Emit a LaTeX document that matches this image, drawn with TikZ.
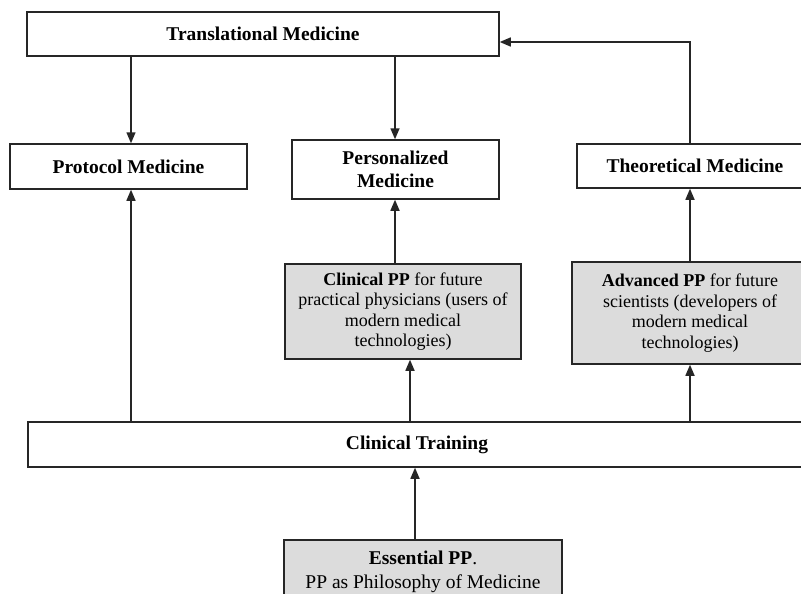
\documentclass[tikz,border=0pt]{standalone}
\usepackage{fontspec}
\setmainfont{Liberation Serif}
\usetikzlibrary{arrows.meta}
\definecolor{edge}{HTML}{262626}
\definecolor{ppfill}{HTML}{DCDCDC}
\tikzset{
  box/.style={draw=edge, line width=1.5pt, inner sep=0pt, align=center,
    text=black, font=\bfseries\fontsize{19.5}{23}\selectfont},
  ppbox/.style={box, fill=ppfill, font=\fontsize{18}{20.5}\selectfont},
  plainbox/.style={box, fill=ppfill, font=\fontsize{19.5}{24}\selectfont},
  arr/.style={draw=edge, line width=1.5pt, -{Triangle[length=11pt,width=9pt]}},
}
\begin{document}
\begin{tikzpicture}[x=1pt,y=-1pt]
\useasboundingbox (0,0) rectangle (801,594);
\clip (0,0) rectangle (801,594);
\fill[white] (0,0) rectangle (801,594);

% top level
\node[box, minimum width=472pt, minimum height=44pt] (trans) at (263,34) {Translational Medicine};

% second level
\node[box, minimum width=237pt, minimum height=45pt] (proto) at (128.5,166.5) {Protocol Medicine};
\node[box, minimum width=207pt, minimum height=59pt] (pers) at (395.5,169.5) {Personalized\\Medicine};
\node[box, minimum width=236pt, minimum height=44pt] (theo) at (695,166) {Theoretical Medicine};

% propaedeutics boxes
\node[ppbox, minimum width=236pt, minimum height=95pt] (clinpp) at (403,311.5)
  {\textbf{Clinical PP} for future\\practical physicians (users of\\modern medical\\technologies)};
\node[ppbox, minimum width=236pt, minimum height=102pt] (advpp) at (690,313)
  {\textbf{Advanced PP} for future\\scientists (developers of\\modern medical\\technologies)};

% training
\node[box, minimum width=778pt, minimum height=45pt] (ctrain) at (417,444.5) {Clinical Training};

% base
\node[plainbox, minimum width=278pt, minimum height=64pt] (ess) at (423,572)
  {\textbf{Essential PP}.\\PP as Philosophy of Medicine};

% x positions of the vertical connectors
\coordinate (xa) at (131,0);
\coordinate (xb) at (395,0);
\coordinate (xc) at (690,0);
\coordinate (xd) at (410,0);
\coordinate (xe) at (415,0);
\coordinate (ya) at (0,42);

% connectors
\draw[arr] (trans.south -| xa) -- (proto.north -| xa);
\draw[arr] (trans.south -| xb) -- (pers.north -| xb);
\draw[arr] (theo.north -| xc) -- (ya -| xc) -- (ya -| trans.east);

\draw[arr] (ctrain.north -| xa) -- (proto.south -| xa);
\draw[arr] (ctrain.north -| xd) -- (clinpp.south -| xd);
\draw[arr] (ctrain.north -| xc) -- (advpp.south -| xc);

\draw[arr] (clinpp.north -| xb) -- (pers.south -| xb);
\draw[arr] (advpp.north -| xc) -- (theo.south -| xc);

\draw[arr] (ess.north -| xe) -- (ctrain.south -| xe);
\end{tikzpicture}
\end{document}
